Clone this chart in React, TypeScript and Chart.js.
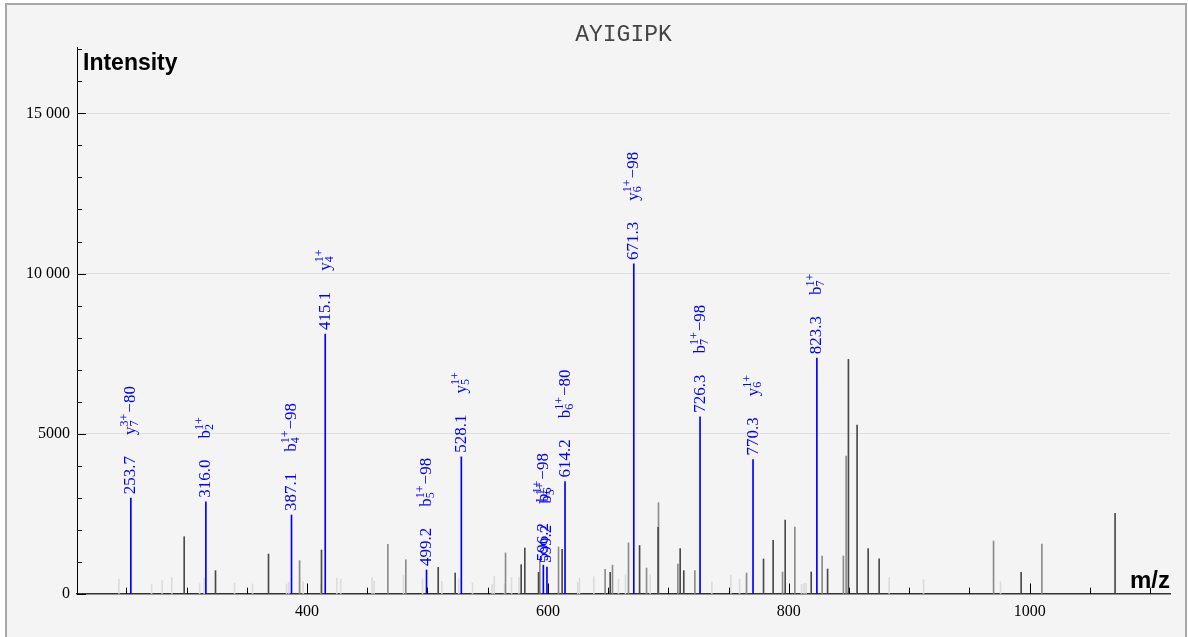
import React, { useEffect, useRef } from 'react';
import { Chart, registerables } from 'chart.js';
Chart.register(...registerables);

// ---- Data ----
const titleText = 'AYIGIPK';
const xTickValues = [400, 600, 800, 1000];
const yTickValues = [0, 5000, 10000, 15000];
const yTickLabels = ['0', '5000', '10 000', '15 000'];

const annotatedMz = [253.7, 316.0, 387.1, 415.1, 499.2, 528.1, 596.2, 599.2, 614.2, 671.3, 726.3, 770.3, 823.3];
const annotatedIntensity = [2990, 2875, 2465, 8110, 750, 4280, 900, 840, 3510, 10300, 5530, 4195, 7360];
const ionBase = ['y', 'b', 'b', 'y', 'b', 'y', 'b', 'b', 'b', 'y', 'b', 'y', 'b'];
const ionSub = ['7', '2', '4', '4', '5', '5', '6', '5', '6', '6', '7', '6', '7'];
const ionSup = ['3+', '1+', '1+', '1+', '1+', '1+', '1+', '1+', '1+', '1+', '1+', '1+', '1+'];
const ionLoss = ['−80', '', '−98', '', '−98', '', '−98', '', '−80', '−98', '−98', '', ''];

const darkMz = [298.0, 324.0, 368.0, 412.0, 508.9, 523.0, 577.8, 580.8, 592.2, 611.8, 651.7, 676.1, 691.5, 709.8, 712.8, 779.0, 787.0, 797.0, 818.6, 832.2, 849.5, 856.7, 865.9, 875.0, 992.9, 1070.9];
const darkIntensity = [1788, 728, 1248, 1373, 832, 655, 915, 1435, 676, 1394, 676, 1513, 2080, 1414, 728, 1092, 1675, 2308, 686, 780, 7322, 5273, 1414, 1100, 676, 2517];

const grayMz = [393.8, 467.1, 482.0, 564.8, 593.3, 608.8, 647.5, 653.6, 666.9, 681.9, 691.8, 707.9, 722.0, 764.9, 794.8, 805.0, 827.7, 845.3, 847.6, 970.0, 1010.1];
const grayIntensity = [1040, 1547, 1070, 1280, 1100, 1466, 770, 900, 1595, 811, 2849, 936, 728, 655, 686, 2090, 1185, 1185, 4306, 1654, 1560];

const lightMz = [243.8, 270.9, 279.7, 287.7, 310.8, 314.6, 339.8, 354.7, 383.0, 384.9, 396.8, 411.5, 424.7, 428.0, 454.0, 455.7, 480.1, 495.9, 511.9, 526.0, 537.4, 553.7, 555.4, 564.0, 569.8, 575.9, 624.8, 626.2, 638.1, 658.6, 664.4, 684.9, 736.1, 751.9, 759.1, 810.6, 812.7, 814.4, 883.3, 911.9, 975.8];
const lightIntensity = [468, 302, 416, 510, 322, 500, 343, 312, 312, 374, 384, 312, 490, 470, 510, 400, 590, 470, 395, 480, 353, 312, 551, 322, 520, 530, 364, 500, 540, 470, 600, 600, 374, 590, 460, 300, 330, 330, 510, 447, 374];

const X_MIN = 209;
const X_MAX = 1116.5;
const Y_MAX = 17070;

const pts = (xs: number[], ys: number[]) => xs.map((x, i) => ({ x, y: ys[i] }));

const SERIF = '"Liberation Serif", "Times New Roman", serif';
const SANS = '"Liberation Sans", Arial, sans-serif';

const decorPlugin = {
  id: 'decor',
  afterDraw(chart: any) {
    const { ctx, scales, chartArea } = chart;
    const x = scales.x;
    const y = scales.y;
    ctx.save();
    // inward ticks on y axis
    ctx.strokeStyle = '#000';
    ctx.lineWidth = 1;
    for (let v = 0; v <= Y_MAX; v += 1000) {
      const py = Math.round(y.getPixelForValue(v)) + 0.5;
      const len = v % 5000 === 0 ? 9 : 5;
      ctx.beginPath();
      ctx.moveTo(chartArea.left, py);
      ctx.lineTo(chartArea.left + len, py);
      ctx.stroke();
    }
    // inward ticks on x axis
    for (let v = 250; v <= X_MAX; v += 50) {
      const px = Math.round(x.getPixelForValue(v)) + 0.5;
      const len = v % 200 === 0 ? 10.5 : 6.3;
      ctx.beginPath();
      ctx.moveTo(px, chartArea.bottom);
      ctx.lineTo(px, chartArea.bottom - len);
      ctx.stroke();
    }
    // title
    ctx.fillStyle = '#444';
    ctx.font = `23px "Liberation Mono", "Courier New", monospace`;
    ctx.textAlign = 'center';
    ctx.textBaseline = 'alphabetic';
    ctx.fillText(titleText, (chartArea.left + chartArea.right) / 2, 41);
    // axis titles
    ctx.fillStyle = '#000';
    ctx.font = `bold 23px ${SANS}`;
    ctx.textAlign = 'left';
    ctx.fillText('Intensity', chartArea.left + 6, 70);
    ctx.textAlign = 'right';
    ctx.font = `bold 24px ${SANS}`;
    ctx.fillText('m/z', chartArea.right, 588);

    // peak annotations
    const F = 17;
    const FS = 12;
    ctx.fillStyle = '#0000ff';
    annotatedMz.forEach((mz, i) => {
      const px = x.getPixelForValue(mz);
      const py = y.getPixelForValue(annotatedIntensity[i]);
      ctx.save();
      ctx.translate(px, py - 4);
      ctx.rotate(-Math.PI / 2);
      ctx.textAlign = 'left';
      ctx.textBaseline = 'alphabetic';
      const B = 4.5;
      ctx.font = `${F}px ${SERIF}`;
      const t = mz.toFixed(1);
      ctx.fillText(t, 0, B);
      let cx = ctx.measureText(t).width + 21;
      ctx.fillText(ionBase[i], cx, B);
      cx += ctx.measureText(ionBase[i]).width;
      ctx.font = `${FS}px ${SERIF}`;
      ctx.fillText(ionSup[i], cx, B - 7);
      ctx.fillText(ionSub[i], cx, B + 3);
      cx += Math.max(ctx.measureText(ionSup[i]).width, ctx.measureText(ionSub[i]).width) + 1;
      if (ionLoss[i]) {
        ctx.font = `${F}px ${SERIF}`;
        ctx.fillText(ionLoss[i], cx, B);
      }
      ctx.restore();
    });
    ctx.restore();
  },
};

export default function App() {
  const ref = useRef<HTMLCanvasElement>(null);
  useEffect(() => {
    if (!ref.current) return;
    const barDs = (label: string, data: any[], color: string) => ({
      label,
      data,
      backgroundColor: color,
      borderWidth: 0,
      barThickness: 1,
      grouped: false,
    });
    const chart = new Chart(ref.current, {
      type: 'bar',
      data: {
        datasets: [
          barDs('annotated', pts(annotatedMz, annotatedIntensity), '#0000ff'),
          barDs('dark', pts(darkMz, darkIntensity), '#4a4a4a'),
          barDs('gray', pts(grayMz, grayIntensity), '#8c8c8c'),
          barDs('light', pts(lightMz, lightIntensity), '#dcdcdc'),
        ],
      },
      options: {
        animation: false,
        responsive: false,
        layout: { padding: { top: 47, right: 18, left: 0, bottom: 0 } },
        plugins: { legend: { display: false }, tooltip: { enabled: false }, title: { display: false } },
        scales: {
          x: {
            type: 'linear',
            min: X_MIN,
            max: X_MAX,
            offset: false,
            grid: { display: false, drawTicks: false },
            border: { display: true, color: '#333', width: 1.5 },
            ticks: {
              padding: 8,
              color: '#000',
              font: { family: SERIF, size: 16 },
              maxRotation: 0,
              autoSkip: false,
              callback: (v: any) => String(v),
            },
            afterBuildTicks: (s: any) => { s.ticks = xTickValues.map((v) => ({ value: v })); },
            afterFit: (s: any) => { s.height = 43; },
          },
          y: {
            type: 'linear',
            min: 0,
            max: Y_MAX,
            grid: {
              drawTicks: false,
              color: (c: any) => (c.tick && c.tick.value !== 0 ? '#dedede' : 'rgba(0,0,0,0)'),
            },
            border: { display: true, color: '#000', width: 1 },
            ticks: {
              padding: 7,
              color: '#000',
              font: { family: SERIF, size: 16 },
              autoSkip: false,
              callback: (v: any) => yTickLabels[yTickValues.indexOf(v)] ?? '',
            },
            afterBuildTicks: (s: any) => { s.ticks = yTickValues.map((v) => ({ value: v })); },
            afterFit: (s: any) => { s.width = 77; },
          },
        },
      },
      plugins: [decorPlugin],
    } as any);
    return () => chart.destroy();
  }, []);
  return (
    <div style={{ position: 'fixed', left: 0, top: 0, width: 1188, height: 637, background: '#fff', overflow: 'hidden' }}>
      <div style={{ position: 'absolute', left: 5, top: 3, width: 1178, height: 640, border: '2px solid #a8a8a8', background: '#f4f4f4' }} />
      <canvas ref={ref} width={1188} height={637} style={{ position: 'absolute', left: 0, top: 0 }} />
    </div>
  );
}
